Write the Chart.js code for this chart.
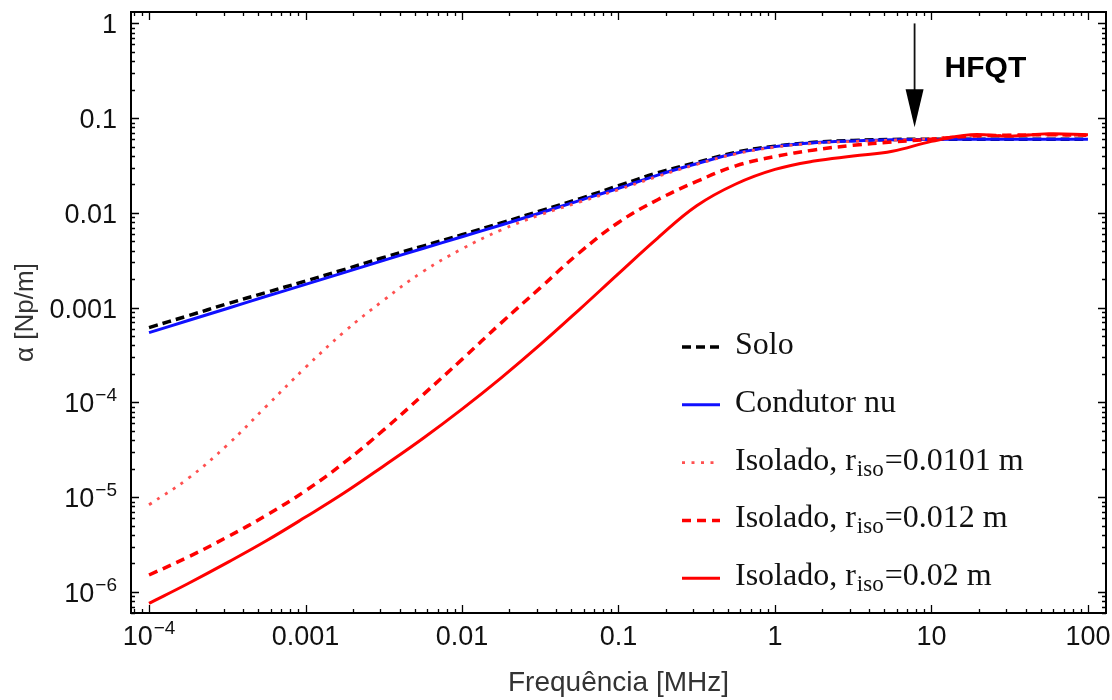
<!DOCTYPE html>
<html>
<head>
<meta charset="utf-8">
<title>Constante de atenuação</title>
<script src="https://cdn.jsdelivr.net/npm/chart.js@4.4.1/dist/chart.umd.min.js"></script>
<style>
  html, body { margin: 0; padding: 0; background: #fff; }
  #wrap { width: 1112px; height: 700px; }
</style>
</head>
<body>
<div id="wrap"><canvas id="alphaChart" width="1112" height="700"></canvas></div>
<script>
// frequency samples [MHz]
const freq = [0.0001, 0.000178, 0.000316, 0.000562, 0.001, 0.00178, 0.00316, 0.00562,
              0.01, 0.0178, 0.0316, 0.0562, 0.1, 0.178, 0.316, 0.562,
              1, 1.78, 3.16, 5.62, 10, 17.8, 31.6, 56.2, 100];

// alpha [Np/m]
const solo = [6.17e-4, 8.22e-4, 1.10e-3, 1.45e-3, 1.91e-3, 2.54e-3, 3.39e-3, 4.47e-3,
              5.89e-3, 7.85e-3, 0.0105, 0.0141, 0.0194, 0.0265, 0.0341, 0.0437,
              0.0507, 0.0556, 0.0582, 0.0596, 0.0600, 0.0600, 0.0600, 0.0600, 0.0600];
const condutorNu = [5.45e-4, 7.33e-4, 9.82e-4, 1.32e-3, 1.76e-3, 2.36e-3, 3.16e-3, 4.21e-3,
                    5.60e-3, 7.46e-3, 0.0100, 0.0135, 0.0182, 0.0251, 0.0331, 0.0427,
                    0.0501, 0.0550, 0.0575, 0.0592, 0.0597, 0.0600, 0.0600, 0.0600, 0.0600];
const isolado0101 = [8.32e-6, 1.58e-5, 3.55e-5, 9.12e-5, 2.34e-4, 5.62e-4, 1.20e-3, 2.40e-3,
                     4.17e-3, 6.61e-3, 9.55e-3, 0.0130, 0.0176, 0.0243, 0.0326, 0.0420,
                     0.0495, 0.0543, 0.0569, 0.0586, 0.0610, 0.0653, 0.0661, 0.0668, 0.0653];
const isolado012 = [1.51e-6, 2.34e-6, 3.80e-6, 6.46e-6, 1.17e-5, 2.34e-5, 5.13e-5, 1.20e-4,
                    2.85e-4, 6.92e-4, 1.62e-3, 3.80e-3, 7.94e-3, 0.0138, 0.0215, 0.0314,
                    0.0394, 0.0462, 0.0518, 0.0560, 0.0600, 0.0646, 0.0661, 0.0668, 0.0661];
const isolado02 = [7.59e-7, 1.23e-6, 2.04e-6, 3.47e-6, 6.17e-6, 1.12e-5, 2.14e-5, 4.17e-5,
                   8.51e-5, 1.82e-4, 4.07e-4, 9.55e-4, 2.29e-3, 5.43e-3, 0.0119, 0.0202,
                   0.0288, 0.0353, 0.0398, 0.0447, 0.0569, 0.0668, 0.0646, 0.0684, 0.0668];

const xTickValues = [0.0001, 0.001, 0.01, 0.1, 1, 10, 100];
const xTickLabels = ['10\u207B\u2074', '0.001', '0.01', '0.1', '1', '10', '100'];
const yTickValues = [1e-6, 1e-5, 1e-4, 0.001, 0.01, 0.1, 1];
const yTickLabels = ['10\u207B\u2076', '10\u207B\u2075', '10\u207B\u2074', '0.001', '0.01', '0.1', '1'];

const legendMain = ['Solo', 'Condutor nu', 'Isolado, r', 'Isolado, r', 'Isolado, r'];
const legendSub  = ['', '', 'iso', 'iso', 'iso'];
const legendTail = ['', '', '=0.0101 m', '=0.012 m', '=0.02 m'];

const hfqtFreq = 7.8;          // MHz, where the arrow points
const hfqtArrow = [1.0, 0.08]; // arrow from / to (alpha)

const tickFont = '27px "Liberation Sans"';
const supFont = '19px "Liberation Sans"';
const supChars = { '\u207B': '\u2212', '\u2070': '0', '\u00B9': '1', '\u00B2': '2', '\u00B3': '3',
                   '\u2074': '4', '\u2075': '5', '\u2076': '6', '\u2077': '7', '\u2078': '8', '\u2079': '9' };

function logTicks(min, max) {
    // decades plus 2..9 minors inside [min, max]
    let out = [];
    for (let e = Math.floor(Math.log10(min)); e <= Math.ceil(Math.log10(max)); e++) {
        for (let k = 1; k <= 9; k++) {
            let v = k * Math.pow(10, e);
            if (v >= min && v <= max) out.push({ value: v, major: k === 1 });
        }
    }
    return out;
}

function splitSup(label) {
    // '10⁻⁴' -> ['10', '−4']
    let base = '', sup = '';
    for (const ch of label) {
        if (supChars[ch] !== undefined) sup += supChars[ch];
        else base += ch;
    }
    return [base, sup];
}

// draws '10' + raised exponent, anchored by align ('center' or 'right')
function drawTickLabel(ctx, label, x, baseline, align) {
    const [base, sup] = splitSup(label);
    ctx.font = tickFont;
    const wb = ctx.measureText(base).width;
    ctx.font = supFont;
    const ws = sup ? ctx.measureText(sup).width + 1 : 0;
    const total = wb + ws;
    let x0 = align === 'right' ? x - total : x - total / 2;
    ctx.font = tickFont;
    ctx.fillText(base, x0, baseline);
    if (sup) {
        ctx.font = supFont;
        ctx.fillText(sup, x0 + wb + 1, baseline - 11);
    }
}

function series(label, values, color, width, dash, order) {
    return {
        label: label,
        data: freq.map((f, i) => ({ x: f, y: values[i] })),
        borderColor: color,
        borderWidth: width,
        borderDash: dash,
        pointRadius: 0,
        fill: false,
        tension: 0.4,
        order: order
    };
}

// box + inward ticks on all four sides, and the tick labels
const frameTicks = {
    id: 'frameTicks',
    afterDatasetsDraw(chart) {
        const { ctx, chartArea: a, scales: { x, y } } = chart;
        ctx.save();
        ctx.strokeStyle = '#000';
        ctx.lineWidth = 1.3;
        ctx.beginPath();
        x.ticks.forEach(t => {
            const px = Math.round(x.getPixelForValue(t.value)) + 0.5;
            const len = t.major ? 8 : 4;
            ctx.moveTo(px, a.bottom); ctx.lineTo(px, a.bottom - len);
            ctx.moveTo(px, a.top); ctx.lineTo(px, a.top + len);
        });
        y.ticks.forEach(t => {
            const py = Math.round(y.getPixelForValue(t.value)) + 0.5;
            const len = t.major ? 8 : 4;
            ctx.moveTo(a.left, py); ctx.lineTo(a.left + len, py);
            ctx.moveTo(a.right, py); ctx.lineTo(a.right - len, py);
        });
        ctx.stroke();
        ctx.lineWidth = 2;
        ctx.strokeRect(a.left, a.top, a.right - a.left, a.bottom - a.top);

        ctx.fillStyle = '#111';
        ctx.textBaseline = 'alphabetic';
        ctx.textAlign = 'left';
        xTickValues.forEach((v, i) => {
            drawTickLabel(ctx, xTickLabels[i], x.getPixelForValue(v), a.bottom + 32, 'center');
        });
        yTickValues.forEach((v, i) => {
            drawTickLabel(ctx, yTickLabels[i], a.left - 14, y.getPixelForValue(v) + 10, 'right');
        });
        ctx.restore();
    }
};

const hfqtMark = {
    id: 'hfqtMark',
    afterDraw(chart) {
        const { ctx, scales: { x, y } } = chart;
        const px = x.getPixelForValue(hfqtFreq);
        const y0 = y.getPixelForValue(hfqtArrow[0]);
        const y1 = y.getPixelForValue(hfqtArrow[1]);
        ctx.save();
        ctx.strokeStyle = '#111';
        ctx.fillStyle = '#000';
        ctx.lineWidth = 1.8;
        ctx.beginPath();
        ctx.moveTo(px, y0); ctx.lineTo(px, y1 - 30);
        ctx.stroke();
        ctx.beginPath();
        ctx.moveTo(px - 9, y1 - 38);
        ctx.lineTo(px + 9, y1 - 38);
        ctx.lineTo(px, y1);
        ctx.closePath();
        ctx.fill();
        ctx.font = 'bold 30px "Liberation Sans"';
        ctx.textAlign = 'left';
        ctx.textBaseline = 'alphabetic';
        ctx.fillText('HFQT', px + 30, 77);
        ctx.restore();
    }
};

const legendBox = {
    id: 'legendBox',
    afterDraw(chart) {
        const ctx = chart.ctx;
        ctx.save();
        chart.data.datasets.forEach((ds, i) => {
            const yLine = 347 + i * 57.8;
            ctx.strokeStyle = ds.borderColor;
            ctx.lineWidth = ds.borderWidth;
            ctx.setLineDash(ds.borderDash || []);
            ctx.beginPath();
            ctx.moveTo(682, yLine); ctx.lineTo(720, yLine);
            ctx.stroke();
            ctx.setLineDash([]);

            const base = yLine + 7;
            let tx = 735;
            ctx.fillStyle = '#111';
            ctx.textAlign = 'left';
            ctx.textBaseline = 'alphabetic';
            ctx.font = '32px "Liberation Serif"';
            ctx.fillText(legendMain[i], tx, base);
            tx += ctx.measureText(legendMain[i]).width;
            if (legendSub[i]) {
                ctx.font = '23px "Liberation Serif"';
                ctx.fillText(legendSub[i], tx + 1, base + 6);
                tx += ctx.measureText(legendSub[i]).width + 2;
                ctx.font = '32px "Liberation Serif"';
                ctx.fillText(legendTail[i], tx, base);
            }
        });
        ctx.restore();
    }
};

const config = {
    type: 'line',
    data: {
        datasets: [
            series('Solo', solo, '#000000', 3.5, [9, 5], 5),
            series('Condutor nu', condutorNu, '#1010ff', 3, [], 4),
            series('Isolado, riso=0.0101 m', isolado0101, '#ff5050', 2.8, [3, 6.5], 3),
            series('Isolado, riso=0.012 m', isolado012, '#ff0000', 3.5, [9, 6], 2),
            series('Isolado, riso=0.02 m', isolado02, '#ff0000', 3, [], 1)
        ]
    },
    options: {
        responsive: false,
        animation: false,
        devicePixelRatio: 1,
        layout: { padding: { top: 12, right: 6, left: 0, bottom: 0 } },
        plugins: {
            legend: { display: false },
            tooltip: { enabled: false }
        },
        scales: {
            x: {
                type: 'logarithmic',
                min: 7.67e-5,
                max: 130.4,
                grid: { display: false },
                border: { display: false },
                afterBuildTicks: (scale) => { scale.ticks = logTicks(scale.min, scale.max); },
                afterFit: (scale) => { scale.height = 87; scale.paddingLeft = 0; scale.paddingRight = 0; },
                ticks: { display: false, autoSkip: false },
                title: {
                    display: true,
                    text: 'Frequência [MHz]',
                    color: '#333',
                    font: { family: 'Liberation Sans', size: 28 },
                    padding: { top: 0, bottom: 0 }
                }
            },
            y: {
                type: 'logarithmic',
                min: 6.0e-7,
                max: 1.32,
                grid: { display: false },
                border: { display: false },
                afterBuildTicks: (scale) => { scale.ticks = logTicks(scale.min, scale.max); },
                afterFit: (scale) => { scale.width = 131; scale.paddingTop = 0; scale.paddingBottom = 0; },
                ticks: { display: false, autoSkip: false },
                title: {
                    display: true,
                    text: 'α [Np/m]',
                    color: '#333',
                    font: { family: 'Liberation Sans', size: 26 },
                    padding: { top: 10, bottom: 0 }
                }
            }
        }
    },
    plugins: [frameTicks, hfqtMark, legendBox]
};

document.addEventListener('DOMContentLoaded', function () {
    const ctx = document.getElementById('alphaChart').getContext('2d');
    window.alphaChart = new Chart(ctx, config);
});
</script>
</body>
</html>
